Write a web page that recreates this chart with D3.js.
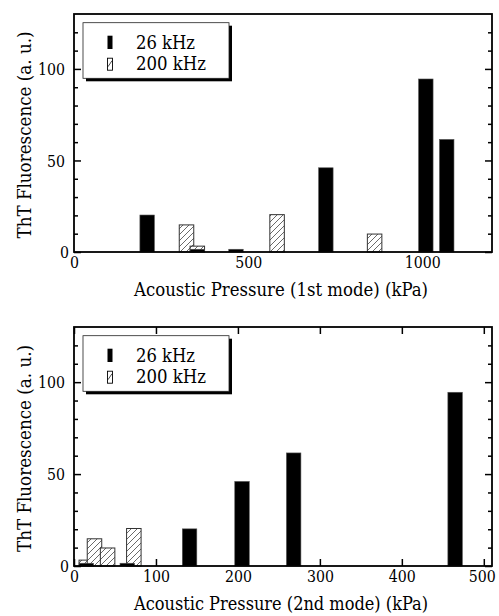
<!DOCTYPE html>
<html><head><meta charset="utf-8">
<script src="https://cdn.jsdelivr.net/npm/d3@7"></script>
<style>
html,body{margin:0;padding:0;background:#fff;}
</style></head>
<body><svg id="c" width="499" height="616"></svg>
<script>
// ---- data ----
const seriesNames = ["26 kHz", "200 kHz"];
// 1st mode (kPa, fluorescence a.u.)
const mode1_26kHz_x  = [210, 354, 465, 723, 1010, 1070];
const mode1_26kHz_y  = [20.2, 1.5, 1.5, 46, 94.5, 61.5];
const mode1_200kHz_x = [323, 354, 583, 863];
const mode1_200kHz_y = [14.8, 3.2, 20.4, 9.8];
// 2nd mode
const mode2_26kHz_x  = [15, 65, 141, 205, 268, 465];
const mode2_26kHz_y  = [1.5, 1.5, 20.2, 46, 61.5, 94.5];
const mode2_200kHz_x = [15, 25, 41, 73];
const mode2_200kHz_y = [3.2, 14.8, 9.8, 20.4];
const yTicksMajor = [0, 50, 100];
const yTicksMinor = [10, 20, 30, 40, 60, 70, 80, 90, 110, 120];
const x1Ticks = [0, 500, 1000];
const x2Ticks = [0, 100, 200, 300, 400, 500];
const x1Label = "Acoustic Pressure (1st mode) (kPa)";
const x2Label = "Acoustic Pressure (2nd mode) (kPa)";
const yLabel = "ThT Fluorescence (a. u.)";

const FONT = "'DejaVu Serif Condensed', 'DejaVu Serif', serif";
const svg = d3.select("#c");
const defs = svg.append("defs");
const pat = defs.append("pattern").attr("id","hatch").attr("patternUnits","userSpaceOnUse")
  .attr("width",6).attr("height",6);
pat.append("rect").attr("width",6).attr("height",6).attr("fill","#fff");
pat.append("path").attr("d","M-1,7 L7,-1 M-4,4 L4,-4 M2,10 L10,2").attr("stroke","#444").attr("stroke-width",0.8);

const L = 74, R = 492, BW = 14.5;
const DIGIT_W = 9.0;

function panel(top, bottom, xdom, xt, showXTicks, d26x, d26y, d200x, d200y, xlab) {
  const x = d3.scaleLinear().domain(xdom).range([L, R]);
  const y = d3.scaleLinear().domain([0, 130]).range([bottom, top]);
  const g = svg.append("g");

  g.selectAll(".h").data(d200x.map((v,i)=>({x:v,y:d200y[i]}))).join("rect")
    .attr("x", d=>x(d.x)-BW/2).attr("width", BW)
    .attr("y", d=>y(d.y)).attr("height", d=>y(0)-y(d.y))
    .attr("fill","url(#hatch)").attr("stroke","#333").attr("stroke-width",1);
  g.selectAll(".b").data(d26x.map((v,i)=>({x:v,y:d26y[i]}))).join("rect")
    .attr("x", d=>x(d.x)-BW/2).attr("width", BW)
    .attr("y", d=>y(d.y)).attr("height", d=>y(0)-y(d.y))
    .attr("fill","#000").attr("stroke","#555").attr("stroke-width",0.6);

  const ya = g.append("g").attr("transform",`translate(${L},0)`)
    .call(d3.axisLeft(y).tickValues(yTicksMajor).tickSize(-7).tickPadding(9).tickFormat(d3.format("d")));
  ya.selectAll("text").attr("class","tk").filter(d=>d===0).attr("dx",4);
  g.append("g").attr("transform",`translate(${L},0)`)
    .call(d3.axisLeft(y).tickValues(yTicksMinor).tickSize(-4).tickFormat(""));
  g.append("g").attr("transform",`translate(${R},0)`)
    .call(d3.axisRight(y).tickValues(yTicksMajor).tickSize(-7).tickFormat(""));
  g.append("g").attr("transform",`translate(${R},0)`)
    .call(d3.axisRight(y).tickValues(yTicksMinor).tickSize(-4).tickFormat(""));

  const xa = g.append("g").attr("transform",`translate(0,${bottom})`)
    .call(d3.axisBottom(x).tickValues(xt).tickSize(showXTicks?-7:0).tickPadding(4).tickFormat(d3.format("d")));
  xa.selectAll("text").attr("class","tk");
  xa.selectAll("text").filter(d => x(d) > R - 12).attr("dx", -2);
  if (showXTicks) {
    g.append("g").attr("transform",`translate(0,${top})`)
      .call(d3.axisTop(x).tickValues(xt).tickSize(-7).tickFormat(""));
  }
  g.selectAll(".domain").remove();
  g.selectAll(".tick line").attr("stroke","#000").attr("stroke-width",1.5);

  g.append("rect").attr("x",L).attr("y",top).attr("width",R-L).attr("height",bottom-top)
    .attr("fill","none").attr("stroke","#000").attr("stroke-width",1.8);

  g.append("text").attr("class","lb").attr("x",281).attr("y",bottom+44).attr("text-anchor","middle")
    .attr("textLength",294).attr("lengthAdjust","spacingAndGlyphs").text(xlab);
  g.append("text").attr("class","lb").attr("transform",`translate(24,${(top+bottom)/2+2}) rotate(-90)`)
    .attr("text-anchor","middle").attr("dominant-baseline","central")
    .attr("textLength",207).attr("lengthAdjust","spacingAndGlyphs").text(yLabel);

  const lx = 83, ly = top + 8.7, lw = 146, lh = 55.6;
  g.append("rect").attr("x",lx+3).attr("y",ly+3).attr("width",lw).attr("height",lh).attr("fill","#000");
  g.append("rect").attr("x",lx).attr("y",ly).attr("width",lw).attr("height",lh)
    .attr("fill","#fff").attr("stroke","#222").attr("stroke-width",0.8);
  g.append("rect").attr("x",lx+24.5).attr("y",ly+13).attr("width",5).attr("height",13.3).attr("fill","#000");
  g.append("rect").attr("x",lx+24.5).attr("y",ly+35.5).attr("width",5).attr("height",12)
    .attr("fill","#fff").attr("stroke","#000").attr("stroke-width",0.9);
  g.append("line").attr("x1",lx+25).attr("y1",ly+44).attr("x2",lx+29).attr("y2",ly+38)
    .attr("stroke","#000").attr("stroke-width",0.7);
  g.append("text").attr("class","lg").attr("x",lx+53).attr("y",ly+26.5)
    .attr("textLength",59).attr("lengthAdjust","spacingAndGlyphs").text(seriesNames[0]);
  g.append("text").attr("class","lg").attr("x",lx+53).attr("y",ly+47.5)
    .attr("textLength",70).attr("lengthAdjust","spacingAndGlyphs").text(seriesNames[1]);
}

panel(14, 252, [0,1200], x1Ticks, false, mode1_26kHz_x, mode1_26kHz_y, mode1_200kHz_x, mode1_200kHz_y, x1Label);
panel(327, 566, [0,510], x2Ticks, true, mode2_26kHz_x, mode2_26kHz_y, mode2_200kHz_x, mode2_200kHz_y, x2Label);

svg.selectAll("g").attr("font-family", null).attr("font-size", null);
svg.selectAll("text").attr("font-family", FONT).attr("fill", "#000");
svg.selectAll("text.tk").attr("font-size", 17.5)
  .attr("textLength", function(){ return this.textContent.length * DIGIT_W; })
  .attr("lengthAdjust","spacingAndGlyphs");
svg.selectAll("text.lb").attr("font-size", 19);
svg.selectAll("text.lg").attr("font-size", 18.5);
</script></body></html>
